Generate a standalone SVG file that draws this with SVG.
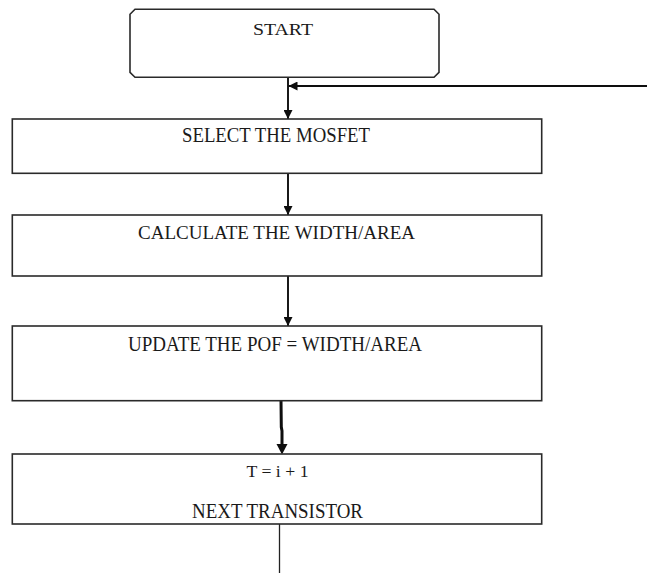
<svg xmlns="http://www.w3.org/2000/svg" width="647" height="573" viewBox="0 0 647 573">
  <defs>
    <style>
      .box { fill: #ffffff; stroke: #2a2a2a; stroke-width: 1.6; }
      .lbl { font-family: "Liberation Serif", "Times New Roman", serif; fill: #1a1a1a; text-anchor: start; }
      .wire { fill: none; stroke: #0e0e0e; stroke-width: 1.9; }
      .wire-bold { fill: none; stroke: #0e0e0e; stroke-width: 3; }
      .wire-thin { fill: none; stroke: #222222; stroke-width: 1.3; }
    </style>
    <marker id="arrow" viewBox="0 0 10 10" refX="10" refY="5" markerWidth="10" markerHeight="9" markerUnits="userSpaceOnUse" orient="auto">
      <path d="M0,0 L10,5 L0,10 Z" fill="#0e0e0e"/>
    </marker>
  </defs>
  <rect width="647" height="573" fill="#ffffff"/>

  <g id="connectors">
    <line class="wire" x1="288" y1="77" x2="288" y2="119" marker-end="url(#arrow)"/>
    <line class="wire" x1="647" y1="86" x2="288.5" y2="86" marker-end="url(#arrow)"/>
    <line class="wire" x1="288" y1="173" x2="288" y2="215" marker-end="url(#arrow)"/>
    <line class="wire" x1="288" y1="276" x2="288" y2="326" marker-end="url(#arrow)"/>
    <path class="wire-bold" d="M281,400 L281.3,427 L282,431 L282,446"/>
    <path d="M276.5,444 L287.5,444 L282,454.5 Z" fill="#0e0e0e"/>
    <line class="wire-thin" x1="279.5" y1="524" x2="279.5" y2="573"/>
  </g>

  <g id="start">
    <path class="box" d="M135,9.3 L434,9.3 L439,14.3 L439,72.3 L434,77.3 L135,77.3 L130,72.3 L130,14.3 Z"/>
    <text class="lbl" x="253" y="35" font-size="17.5" textLength="60" lengthAdjust="spacingAndGlyphs">START</text>
  </g>

  <g id="select">
    <rect class="box" x="12.3" y="119" width="529.4" height="54.3"/>
    <text class="lbl" x="182" y="142" font-size="21" textLength="188" lengthAdjust="spacingAndGlyphs">SELECT THE MOSFET</text>
  </g>

  <g id="calculate">
    <rect class="box" x="12.3" y="215" width="529.4" height="61"/>
    <text class="lbl" x="138" y="238.5" font-size="19" textLength="277" lengthAdjust="spacingAndGlyphs">CALCULATE THE WIDTH/AREA</text>
  </g>

  <g id="update">
    <rect class="box" x="12.3" y="326" width="529.4" height="74.7"/>
    <text class="lbl" x="128" y="350.7" font-size="20.5" textLength="294" lengthAdjust="spacingAndGlyphs">UPDATE THE POF = WIDTH/AREA</text>
  </g>

  <g id="next">
    <rect class="box" x="12.3" y="454" width="529.4" height="70"/>
    <text class="lbl" x="246.5" y="477" font-size="17" textLength="62" lengthAdjust="spacingAndGlyphs">T = i + 1</text>
    <text class="lbl" x="192" y="518" font-size="21" textLength="171" lengthAdjust="spacingAndGlyphs">NEXT TRANSISTOR</text>
  </g>
</svg>
